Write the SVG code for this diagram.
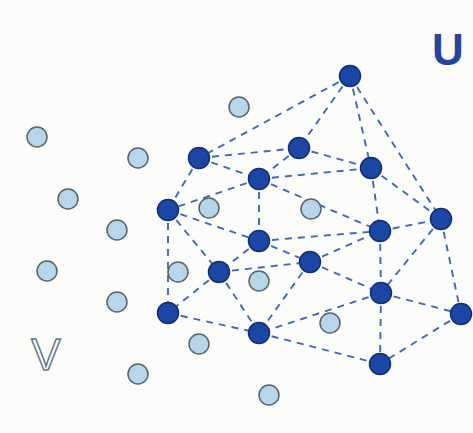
<svg xmlns="http://www.w3.org/2000/svg" width="473" height="433" viewBox="0 0 473 433">
<style>
.e{stroke:#4068b8;stroke-width:1.9;stroke-dasharray:7 6;fill:none}
.d{fill:#1b46a3;stroke:#102f73;stroke-width:1.5}
.l{fill:#b9d5ea;stroke:#55656c;stroke-width:1.5}
.t{font-family:"Liberation Sans",Arial,sans-serif;font-size:44px;text-anchor:middle}
</style>
<rect width="473" height="433" fill="#fcfcfa"/>
<g id="connectors">
<line class="e" x1="350" y1="76" x2="199" y2="158"/>
<line class="e" x1="350" y1="76" x2="299" y2="148"/>
<line class="e" x1="350" y1="76" x2="371" y2="168"/>
<line class="e" x1="350" y1="76" x2="441" y2="219"/>
<line class="e" x1="199" y1="158" x2="299" y2="148"/>
<line class="e" x1="199" y1="158" x2="259" y2="179"/>
<line class="e" x1="199" y1="158" x2="168" y2="210"/>
<line class="e" x1="299" y1="148" x2="259" y2="179"/>
<line class="e" x1="299" y1="148" x2="371" y2="168"/>
<line class="e" x1="259" y1="179" x2="371" y2="168"/>
<line class="e" x1="259" y1="179" x2="168" y2="210"/>
<line class="e" x1="259" y1="179" x2="259" y2="241"/>
<line class="e" x1="259" y1="179" x2="380" y2="231"/>
<line class="e" x1="371" y1="168" x2="380" y2="231"/>
<line class="e" x1="371" y1="168" x2="441" y2="219"/>
<line class="e" x1="168" y1="210" x2="259" y2="241"/>
<line class="e" x1="168" y1="210" x2="219" y2="272"/>
<line class="e" x1="168" y1="210" x2="168" y2="313"/>
<line class="e" x1="259" y1="241" x2="380" y2="231"/>
<line class="e" x1="259" y1="241" x2="310" y2="262"/>
<line class="e" x1="259" y1="241" x2="219" y2="272"/>
<line class="e" x1="219" y1="272" x2="310" y2="262"/>
<line class="e" x1="219" y1="272" x2="168" y2="313"/>
<line class="e" x1="219" y1="272" x2="259" y2="333"/>
<line class="e" x1="310" y1="262" x2="380" y2="231"/>
<line class="e" x1="310" y1="262" x2="381" y2="293"/>
<line class="e" x1="310" y1="262" x2="259" y2="333"/>
<line class="e" x1="380" y1="231" x2="441" y2="219"/>
<line class="e" x1="380" y1="231" x2="381" y2="293"/>
<line class="e" x1="441" y1="219" x2="381" y2="293"/>
<line class="e" x1="441" y1="219" x2="461" y2="314"/>
<line class="e" x1="381" y1="293" x2="461" y2="314"/>
<line class="e" x1="381" y1="293" x2="259" y2="333"/>
<line class="e" x1="381" y1="293" x2="380" y2="364"/>
<line class="e" x1="461" y1="314" x2="380" y2="364"/>
<line class="e" x1="168" y1="313" x2="259" y2="333"/>
<line class="e" x1="259" y1="333" x2="380" y2="364"/>
</g>
<g id="light-nodes">
<circle id="v1" class="l" cx="239" cy="107" r="10"/>
<circle id="v2" class="l" cx="37" cy="137" r="10"/>
<circle id="v3" class="l" cx="138" cy="158" r="10"/>
<circle id="v4" class="l" cx="68" cy="199" r="10"/>
<circle id="v5" class="l" cx="209" cy="208" r="10"/>
<circle id="v6" class="l" cx="311" cy="209" r="10"/>
<circle id="v7" class="l" cx="117" cy="230" r="10"/>
<circle id="v8" class="l" cx="47" cy="271" r="10"/>
<circle id="v9" class="l" cx="178" cy="272" r="10"/>
<circle id="v10" class="l" cx="259" cy="281" r="10"/>
<circle id="v11" class="l" cx="117" cy="302" r="10"/>
<circle id="v12" class="l" cx="330" cy="323" r="10"/>
<circle id="v13" class="l" cx="199" cy="344" r="10"/>
<circle id="v14" class="l" cx="138" cy="374" r="10"/>
<circle id="v15" class="l" cx="269" cy="395" r="10"/>
</g>
<g id="dark-nodes">
<circle id="uA" class="d" cx="350" cy="76" r="10.5"/>
<circle id="uB" class="d" cx="199" cy="158" r="10.5"/>
<circle id="uC" class="d" cx="299" cy="148" r="10.5"/>
<circle id="uD" class="d" cx="259" cy="179" r="10.5"/>
<circle id="uE" class="d" cx="371" cy="168" r="10.5"/>
<circle id="uF" class="d" cx="168" cy="210" r="10.5"/>
<circle id="uG" class="d" cx="441" cy="219" r="10.5"/>
<circle id="uH" class="d" cx="259" cy="241" r="10.5"/>
<circle id="uI" class="d" cx="380" cy="231" r="10.5"/>
<circle id="uJ" class="d" cx="310" cy="262" r="10.5"/>
<circle id="uK" class="d" cx="219" cy="272" r="10.5"/>
<circle id="uL" class="d" cx="381" cy="293" r="10.5"/>
<circle id="uM" class="d" cx="168" cy="313" r="10.5"/>
<circle id="uN" class="d" cx="461" cy="314" r="10.5"/>
<circle id="uO" class="d" cx="259" cy="333" r="10.5"/>
<circle id="uP" class="d" cx="380" cy="364" r="10.5"/>
</g>
<g id="labels">
<text class="t" x="448" y="65" fill="#23479a" font-weight="bold">U</text>
<text class="t" x="46" y="370" fill="#ffffff" stroke="#66758a" stroke-width="1.5">V</text>
</g>
</svg>
